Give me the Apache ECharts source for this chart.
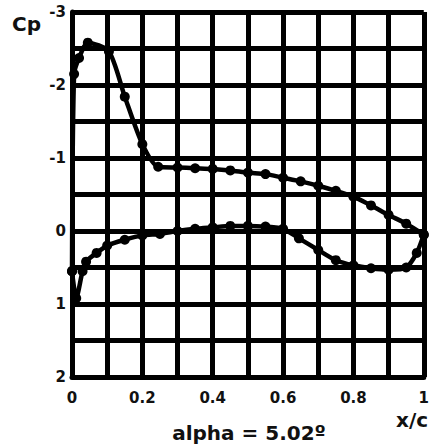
<!DOCTYPE html>
<html>
<head>
<meta charset="utf-8">
<script src="https://cdn.jsdelivr.net/npm/echarts@6/dist/echarts.min.js"></script>
<style>
  html, body { margin: 0; padding: 0; background: #fff; }
  #chart { width: 432px; height: 447px; }
</style>
</head>
<body>
<div id="chart"></div>
<script>
// Cp distribution, alpha = 5.02 deg
// upper surface (suction side), leading edge -> trailing edge
const upperX  = [0, 0.006, 0.02, 0.045, 0.105, 0.15, 0.2, 0.245, 0.3, 0.35, 0.4, 0.45, 0.5, 0.55, 0.6, 0.65, 0.7, 0.75, 0.8, 0.85, 0.9, 0.95, 1.0];
const upperCp = [0.55, -2.15, -2.37, -2.58, -2.46, -1.84, -1.19, -0.88, -0.87, -0.86, -0.85, -0.83, -0.8, -0.78, -0.73, -0.68, -0.62, -0.55, -0.47, -0.35, -0.22, -0.1, 0.05];
// lower surface (pressure side)
const lowerX  = [0, 0.012, 0.03, 0.04, 0.07, 0.1, 0.15, 0.2, 0.25, 0.3, 0.35, 0.4, 0.45, 0.5, 0.55, 0.6, 0.645, 0.7, 0.75, 0.8, 0.85, 0.9, 0.95, 0.98, 1.0];
const lowerCp = [0.55, 0.92, 0.55, 0.42, 0.3, 0.2, 0.12, 0.06, 0.04, 0.0, -0.03, -0.05, -0.07, -0.07, -0.06, -0.03, 0.1, 0.26, 0.4, 0.47, 0.51, 0.53, 0.5, 0.3, 0.05];

const yTicks = [-3, -2, -1, 0, 1, 2];
const xTicks = [0, 0.2, 0.4, 0.6, 0.8, 1];

const fontFam = "DejaVu Sans";
const ink = "#111";

var chart = echarts.init(document.getElementById("chart"), null, { renderer: "svg" });

function pairs(xs, ys) {
  return xs.map((x, i) => [x, ys[i]]);
}

const lineSeries = (name, data) => ({
  name: name,
  type: "line",
  data: data,
  smooth: 0.25,
  symbol: "circle",
  symbolSize: 10,
  itemStyle: { color: "#000" },
  lineStyle: { color: "#000", width: 4.5 },
  z: 5
});

chart.setOption({
  backgroundColor: "#fff",
  animation: false,
  grid: { left: 72, right: 5, top: 12, bottom: 70 },
  title: {
    text: "alpha = 5.02º",
    left: 244,
    top: 418,
    textAlign: "center",
    textStyle: { fontFamily: fontFam, fontWeight: "bold", fontSize: 20, color: ink }
  },
  graphic: [
    { type: "text", left: 12, top: 14,
      style: { text: "Cp", font: "bold 20px DejaVu Sans", fill: ink } },
    { type: "text", left: 396, top: 410,
      style: { text: "x/c", font: "bold 20px DejaVu Sans", fill: ink } }
  ],
  xAxis: {
    type: "value",
    min: 0, max: 1, interval: 0.1,
    axisLine: { show: true, onZero: false, lineStyle: { color: "#000", width: 5 } },
    axisTick: { show: false },
    splitLine: { show: true, lineStyle: { color: "#000", width: 5 } },
    axisLabel: {
      margin: 13,
      fontFamily: fontFam, fontWeight: "bold", fontSize: 15, color: ink,
      formatter: v => {
        const r = Math.round(v * 10) / 10;
        return xTicks.includes(r) ? String(r) : "";
      }
    }
  },
  yAxis: {
    type: "value",
    inverse: true,
    min: -3, max: 2, interval: 0.5,
    axisLine: { show: true, onZero: false, lineStyle: { color: "#000", width: 5 } },
    axisTick: { show: false },
    splitLine: { show: true, lineStyle: { color: "#000", width: 5 } },
    axisLabel: {
      margin: 6,
      fontFamily: fontFam, fontWeight: "bold", fontSize: 15, color: ink,
      formatter: v => (yTicks.includes(v) ? String(v) : "")
    }
  },
  series: [
    lineSeries("upper", pairs(upperX, upperCp)),
    lineSeries("lower", pairs(lowerX, lowerCp))
  ]
});
</script>
</body>
</html>
